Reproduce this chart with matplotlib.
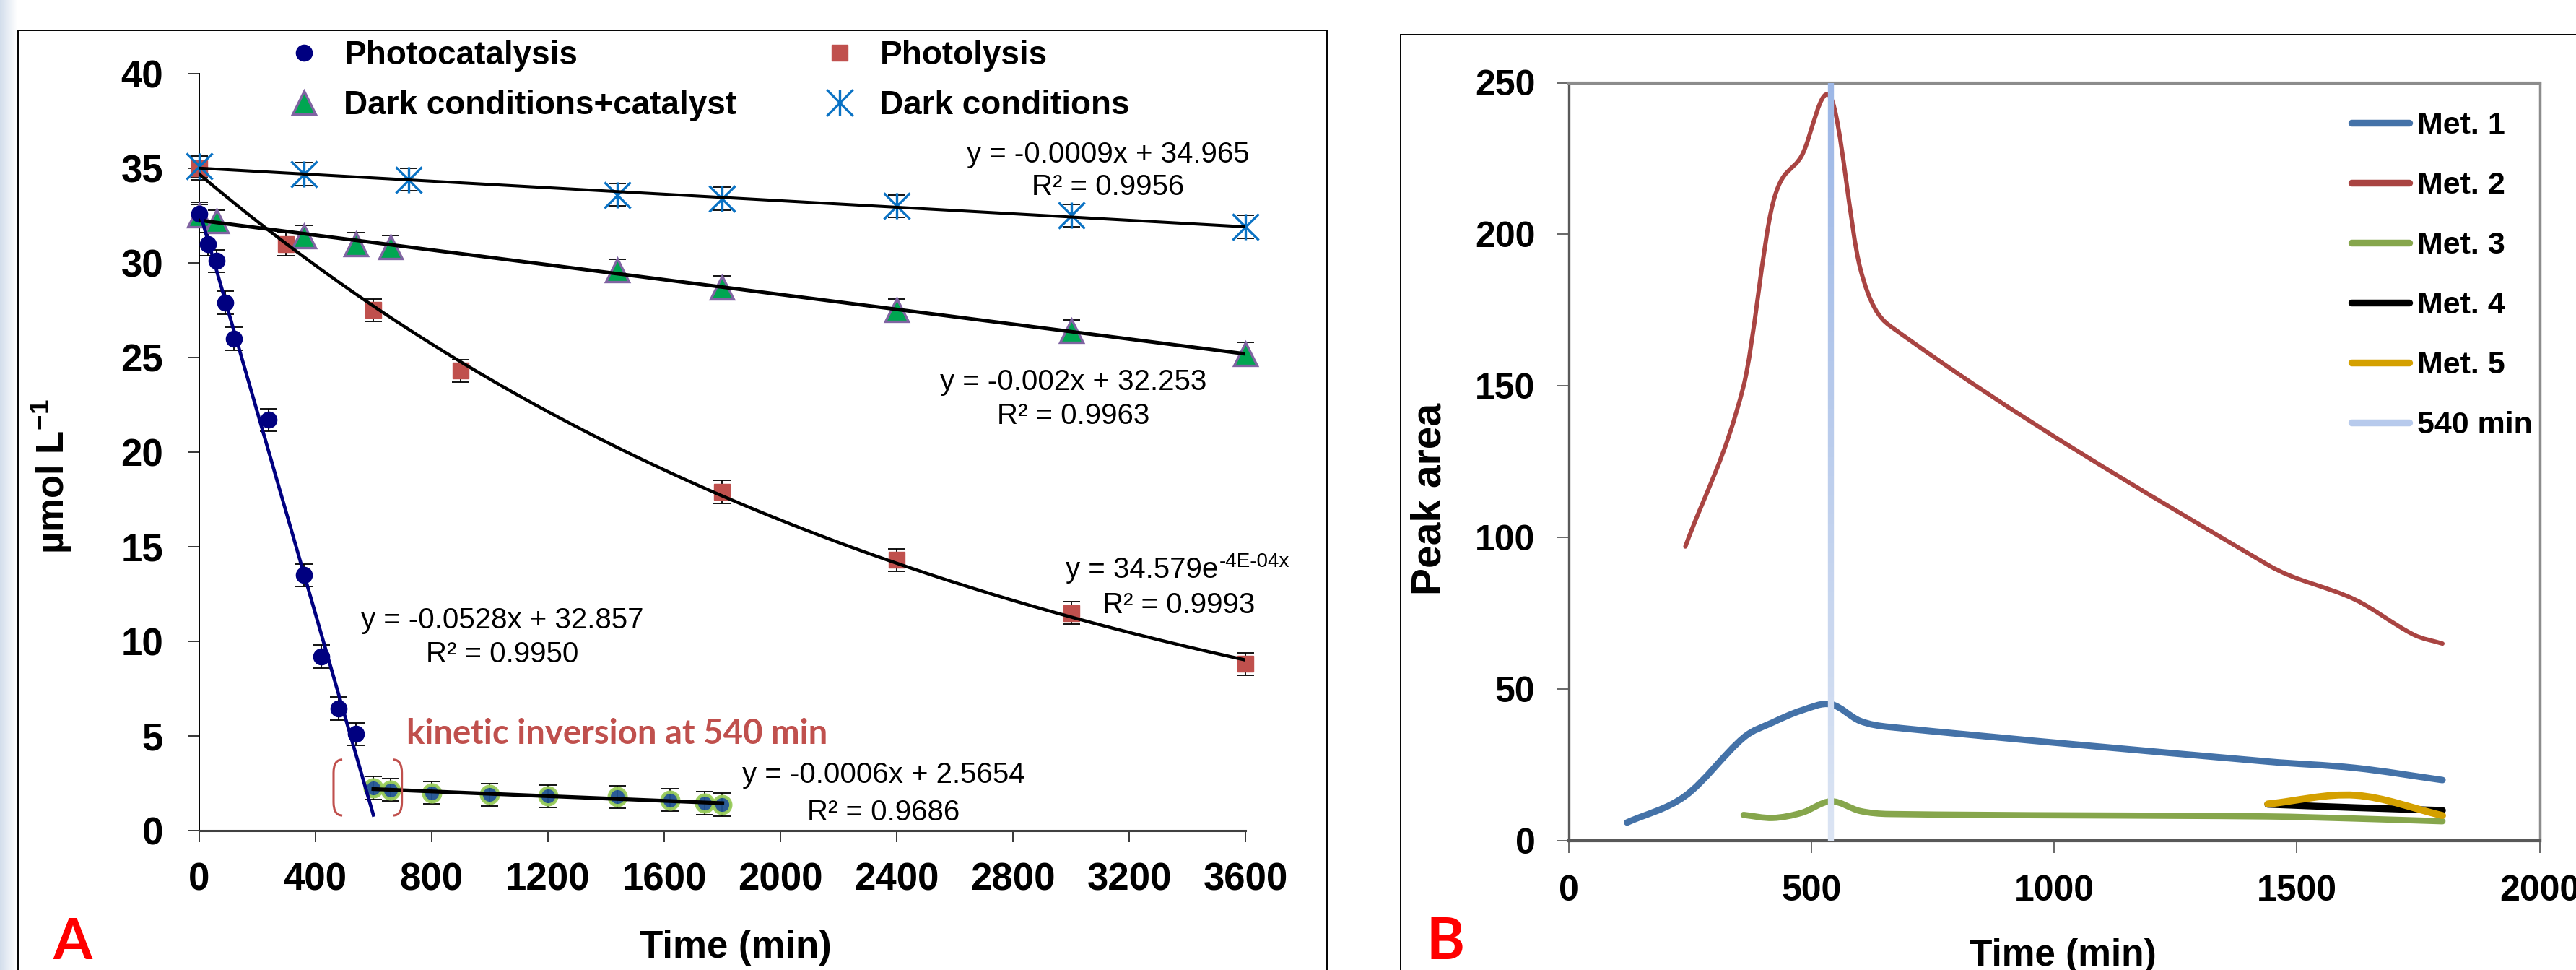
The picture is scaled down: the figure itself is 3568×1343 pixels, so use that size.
import numpy as np
import matplotlib
matplotlib.use("Agg")
import matplotlib.pyplot as plt
from matplotlib.path import Path
from matplotlib.patches import PathPatch, Rectangle
from matplotlib.lines import Line2D
from matplotlib.collections import LineCollection
from matplotlib.colors import LinearSegmentedColormap, to_rgb

plt.rcParams['font.family'] = ['Liberation Sans', 'DejaVu Sans']
plt.rcParams['mathtext.fontset'] = 'custom'
plt.rcParams['mathtext.rm'] = 'Liberation Sans'
plt.rcParams['mathtext.bf'] = 'Liberation Sans:bold'
plt.rcParams['mathtext.it'] = 'Liberation Sans:italic'

# ---------------- Panel A data ----------------
t_pc = [0, 30, 60, 90, 120, 240, 360, 420, 480, 540]
y_pc = [32.6, 31.0, 30.1, 27.9, 26.0, 21.7, 13.5, 9.2, 6.45, 5.1]
e_pc = [0.6, 0.6, 0.6, 0.6, 0.6, 0.6, 0.6, 0.6, 0.6, 0.6]

t_pc2 = [600, 660, 800, 1000, 1200, 1440, 1620, 1740, 1800]
y_pc2 = [2.25, 2.15, 2.0, 1.9, 1.82, 1.78, 1.62, 1.45, 1.38]
e_pc2 = [0.6, 0.6, 0.6, 0.6, 0.6, 0.6, 0.6, 0.6, 0.6]

t_pl = [0, 300, 600, 900, 1800, 2400, 3000, 3600]
y_pl = [35.0, 31.0, 27.5, 24.3, 17.9, 14.3, 11.5, 8.8]
e_pl = [0.6, 0.6, 0.6, 0.6, 0.6, 0.6, 0.6, 0.6]

t_dc = [0, 60, 360, 540, 660, 1440, 1800, 2400, 3000, 3600]
y_dc = [32.5, 32.2, 31.4, 31.0, 30.85, 29.6, 28.7, 27.5, 26.4, 25.2]
e_dc = [0.6, 0.6, 0.6, 0.6, 0.6, 0.6, 0.6, 0.6, 0.6, 0.6]

t_d = [0, 360, 720, 1440, 1800, 2400, 3000, 3600]
y_d = [35.1, 34.7, 34.4, 33.6, 33.4, 33.0, 32.5, 31.9]
e_d = [0.6, 0.6, 0.6, 0.6, 0.6, 0.6, 0.6, 0.6]

labels_A = ['Photocatalysis', 'Dark conditions+catalyst', 'Photolysis', 'Dark conditions']
xticks_A = [0, 400, 800, 1200, 1600, 2000, 2400, 2800, 3200, 3600]
yticks_A = [0, 5, 10, 15, 20, 25, 30, 35, 40]

eq_texts = [
    ('y = -0.0009x + 34.965', 'R² = 0.9956'),
    ('y = -0.002x + 32.253', 'R² = 0.9963'),
    ('y = 34.579e', 'R² = 0.9993'),
    ('y = -0.0528x + 32.857', 'R² = 0.9950'),
    ('y = -0.0006x + 2.5654', 'R² = 0.9686'),
]
eq3_exponent = '-4E-04x'

# ---------------- Panel B data ----------------
t_m1 = [120, 240, 360, 420, 480, 540, 600, 660, 1440, 1620, 1800]
y_m1 = [6.0, 14.8, 34.0, 39.0, 43.0, 45.0, 39.5, 37.5, 26.1, 24.0, 20.0]
t_m2 = [240, 360, 420, 480, 540, 600, 660, 1440, 1620, 1740, 1800]
y_m2 = [97, 150, 210, 226, 245, 189, 170, 91, 79.5, 68, 65]
t_m3 = [360, 420, 480, 540, 600, 660, 1440, 1620, 1800]
y_m3 = [8.5, 7.5, 9.2, 13.0, 9.8, 8.8, 8.0, 7.3, 6.4]
t_m4 = [1440, 1620, 1800]
y_m4 = [12.0, 10.9, 10.0]
t_m5 = [1440, 1620, 1800]
y_m5 = [12.1, 15.0, 8.3]
t_marker = 540
labels_B = ['Met. 1', 'Met. 2', 'Met. 3', 'Met. 4', 'Met. 5', '540 min']
xticks_B = [0, 500, 1000, 1500, 2000]
yticks_B = [0, 50, 100, 150, 200, 250]

# ---------------- figure ----------------
W, H, DPI = 3568, 1343, 100
fig = plt.figure(figsize=(W / DPI, H / DPI), dpi=DPI)
fig.patch.set_facecolor('white')

def fx(p):
    return p / W

def fy(p):
    return 1 - p / H

# faint left strip
axg = fig.add_axes([0, 0, fx(24), 1], zorder=-5)
axg.imshow(np.linspace(0, 1, 64)[None, :], aspect='auto', extent=(0, 1, 0, 1),
           cmap=LinearSegmentedColormap.from_list('g', ['#d3deec', '#ffffff']))
axg.axis('off')

# panel frames
fig.add_artist(Rectangle((fx(25), -0.1), fx(1838) - fx(25), fy(42) + 0.1,
                         transform=fig.transFigure, fill=False, ec='black', lw=1.4, zorder=0))
fig.add_artist(Rectangle((fx(1940), -0.1), 0.6, fy(48) + 0.1,
                         transform=fig.transFigure, fill=False, ec='black', lw=1.4, zorder=0))

axA = fig.add_axes([fx(275.5), fy(1150), fx(1725.5) - fx(275.5), fy(102) - fy(1150)])
axB = fig.add_axes([fx(2173), fy(1164), fx(3517.5) - fx(2173), fy(114.5) - fy(1164)])

# ---------------- Panel A ----------------
star = Path([(-1, -1), (1, 1), (-1, 1), (1, -1), (0, -1), (0, 1)],
            [Path.MOVETO, Path.LINETO, Path.MOVETO, Path.LINETO, Path.MOVETO, Path.LINETO])

eb = dict(fmt='none', ecolor='black', elinewidth=1.3, capsize=8.3, capthick=1.3, zorder=2)
for t, y, e in [(t_pc, y_pc, e_pc), (t_pc2, y_pc2, e_pc2), (t_pl, y_pl, e_pl),
                (t_dc, y_dc, e_dc), (t_d, y_d, e_d)]:
    c = axA.errorbar(t, y, yerr=e, **eb)
    for art in list(c.lines[1]) + list(c.lines[2]):
        art.set_clip_on(False)

st_pc = dict(ls='none', marker='o', ms=16, mfc='#000080', mec='#000080')
st_pc2 = dict(ls='none', marker='o', ms=17, mfc='#1f5290', mec='#9acd5a', mew=3.2, alpha=0.95)
st_pl = dict(ls='none', marker='s', ms=16, mfc='#c0504d', mec='#c0504d')
st_dc = dict(ls='none', marker='^', ms=23, mfc='#00a651', mec='#8064a2', mew=2.4)
st_d = dict(ls='none', marker=star, ms=26, mfc='none', mec='#0a72c4', mew=2.4)

axA.plot(t_pl, y_pl, zorder=3, clip_on=False, **st_pl)
axA.plot(t_dc, y_dc, zorder=3, clip_on=False, **st_dc)
axA.plot(t_pc, y_pc, zorder=3.2, clip_on=False, **st_pc)
axA.plot(t_pc2, y_pc2, zorder=3, clip_on=False, **st_pc2)
axA.plot(t_d, y_d, zorder=3.3, clip_on=False, **st_d)

# trendlines fitted from the data
k_d = np.polyfit(t_d, y_d, 1)
k_dc = np.polyfit(t_dc, y_dc, 1)
k_pl = np.polyfit(t_pl, np.log(y_pl), 1)
k_pc = np.polyfit(t_pc, y_pc, 1)
k_pc2 = np.polyfit(t_pc2, y_pc2, 1)
xx = np.array([0, 3600])
axA.plot(xx, np.polyval(k_d, xx), color='black', lw=2.9, zorder=4)
axA.plot(xx, np.polyval(k_dc, xx), color='black', lw=3.6, zorder=4)
xe = np.linspace(0, 3600, 300)
axA.plot(xe, np.exp(np.polyval(k_pl, xe)), color='black', lw=3.2, zorder=4)
xp = np.array([0, 600])
axA.plot(xp, np.polyval(k_pc, xp), color='#000080', lw=3.4, zorder=4, clip_on=False)
xp2 = np.array([600, 1800])
axA.plot(xp2, np.polyval(k_pc2, xp2), color='black', lw=3.8, zorder=4)

axA.set_xlim(0, 3600)
axA.set_ylim(0, 40)
axA.set_xticks(xticks_A)
axA.set_yticks(yticks_A)
axA.spines['top'].set_visible(False)
axA.spines['right'].set_visible(False)
axA.spines['left'].set_linewidth(1.4)
axA.spines['left'].set_color('black')
axA.spines['bottom'].set_linewidth(2.2)
axA.spines['bottom'].set_color('#404040')
axA.tick_params(axis='both', direction='out', length=11.5, width=1.1, labelsize=38, colors='black')
axA.tick_params(axis='y', pad=24)
axA.tick_params(axis='x', pad=20)
for lab in axA.get_xticklabels() + axA.get_yticklabels():
    lab.set_fontweight('bold')

# bracket around kinetic inversion
def bracket(x0, hook, top, bot, r):
    return Path([(x0 + hook, top), (x0, top), (x0, top - r), (x0, bot + r), (x0, bot), (x0 + hook, bot)],
                [Path.MOVETO, Path.CURVE3, Path.CURVE3, Path.LINETO, Path.CURVE3, Path.CURVE3])

axA.add_patch(PathPatch(bracket(463, 30, 3.75, 0.8, 0.7), fill=False, ec='#c0504d', lw=2.2, zorder=5))
axA.add_patch(PathPatch(bracket(698, -30, 3.75, 0.8, 0.7), fill=False, ec='#c0504d', lw=2.2, zorder=5))

# legend A
hA = [Line2D([], [], **st_pc), Line2D([], [], **st_dc), Line2D([], [], **st_pl), Line2D([], [], **st_d)]
legA = fig.legend(hA, labels_A, ncol=2, loc='upper left', bbox_to_anchor=(fx(393), fy(55)),
                  frameon=False, prop={'family': 'Liberation Sans', 'weight': 'bold', 'size': 33},
                  handlelength=1.2, handletextpad=0.62, columnspacing=2.5, labelspacing=0.55,
                  borderpad=0, borderaxespad=0, numpoints=1)

# equations
eq_pos = [(1535, 225, 270), (1487, 540, 587), (None, 800, 849), (696, 870, 917), (1224, 1084, 1136)]
eq3_main = None
for i, ((l1, l2), (cx, b1, b2)) in enumerate(zip(eq_texts, eq_pos)):
    if i == 2:
        eq3_main = fig.text(fx(1476), fy(b1), l1, ha='left', va='baseline', fontsize=29)
        fig.text(fx(1633), fy(b2), l2, ha='center', va='baseline', fontsize=29)
    else:
        fig.text(fx(cx), fy(b1), l1, ha='center', va='baseline', fontsize=29)
        fig.text(fx(cx), fy(b2), l2, ha='center', va='baseline', fontsize=29)

kin = fig.text(fx(563), fy(1030), 'kinetic inversion at 540 min', ha='left', va='baseline',
               family=['Lato', 'DejaVu Sans'], weight='bold', color='#c0504d', fontsize=30)

fig.text(fx(1019), fy(1326), 'Time (min)', ha='center', va='baseline', fontsize=38, weight='bold')
fig.text(fx(72), fy(660), 'µmol L$^{\\mathbf{-1}}$', ha='center', va='center', rotation=90,
         fontsize=38, weight='bold')
fig.text(fx(100), fy(1342), 'A', ha='center', va='bottom', family=['Lato', 'DejaVu Sans'],
         weight='bold', color='#ff0000', fontsize=56)

# ---------------- Panel B ----------------
def smooth_path(xs, ys):
    # cubic Hermite curve through the points (Excel-like smoothed line)
    x = np.asarray(xs, float)
    y = np.asarray(ys, float)
    n = len(x)
    m = np.zeros(n)
    for i in range(n):
        a = max(i - 1, 0)
        b = min(i + 1, n - 1)
        m[i] = (y[b] - y[a]) / (x[b] - x[a])
    verts = [(x[0], y[0])]
    codes = [Path.MOVETO]
    for i in range(n - 1):
        dx = x[i + 1] - x[i]
        verts += [(x[i] + dx / 3, y[i] + m[i] * dx / 3),
                  (x[i + 1] - dx / 3, y[i + 1] - m[i + 1] * dx / 3),
                  (x[i + 1], y[i + 1])]
        codes += [Path.CURVE4] * 3
    return Path(verts, codes)

colsB = ['#4472a8', '#a94442', '#86a64c', '#000000', '#d4a000']
lwB = [6.5, 4.3, 6.2, 6.8, 7.0]
for (t, y), c, lw in zip([(t_m1, y_m1), (t_m2, y_m2), (t_m3, y_m3), (t_m4, y_m4), (t_m5, y_m5)],
                         colsB, lwB):
    axB.add_patch(PathPatch(smooth_path(t, y), fill=False, ec=c, lw=lw,
                            capstyle='round', joinstyle='round', zorder=3))

# 540 min line with vertical gradient
yy = np.linspace(0, 250, 80)
segs = [[(t_marker, yy[i]), (t_marker, yy[i + 1])] for i in range(len(yy) - 1)]
ctop, cbot = np.array(to_rgb('#9db7e6')), np.array(to_rgb('#dbe4f3'))
fr = np.linspace(0, 1, len(segs))[:, None]
colsg = cbot * (1 - fr) + ctop * fr
axB.add_collection(LineCollection(segs, colors=colsg, linewidths=6.0, zorder=4, capstyle='butt'))

axB.set_xlim(0, 2000)
axB.set_ylim(0, 250)
axB.set_xticks(xticks_B)
axB.set_yticks(yticks_B)
axB.spines['top'].set_color('#8c8c8c')
axB.spines['top'].set_linewidth(3.0)
axB.spines['right'].set_color('#8c8c8c')
axB.spines['right'].set_linewidth(2.5)
axB.spines['left'].set_color('#5a5a5a')
axB.spines['left'].set_linewidth(2.4)
axB.spines['bottom'].set_color('#595959')
axB.spines['bottom'].set_linewidth(3.0)
axB.tick_params(axis='both', direction='out', length=12, width=1.1, labelsize=36,
                color='#404040', labelcolor='black')
axB.tick_params(axis='y', pad=21.6)
axB.tick_params(axis='x', pad=21.6)
for lab in axB.get_xticklabels() + axB.get_yticklabels():
    lab.set_fontweight('bold')

hB = [Line2D([], [], color=c, lw=6.8, solid_capstyle='round') for c in colsB]
hB.append(Line2D([], [], color='#b7caec', lw=6.8, solid_capstyle='round'))
legB = fig.legend(hB, labels_B, loc='upper left', bbox_to_anchor=(fx(3256.7), fy(154)),
                  frameon=False, prop={'family': 'Liberation Sans', 'weight': 'bold', 'size': 31},
                  handlelength=1.86, handletextpad=0.26, labelspacing=1.0,
                  borderpad=0, borderaxespad=0)

fig.text(fx(2857), fy(1337), 'Time (min)', ha='center', va='baseline', fontsize=37, weight='bold')
fig.text(fx(1980), fy(691), 'Peak area', ha='center', va='center', rotation=90,
         fontsize=41, weight='bold')
fig.text(fx(2002), fy(1342), 'B', ha='center', va='bottom', family=['Lato', 'DejaVu Sans'],
         weight='bold', color='#ff0000', fontsize=58)

# fit the red annotation to its measured width; place the exponent of eq. 3
fig.canvas.draw()
r = fig.canvas.get_renderer()
w = kin.get_window_extent(r).width
kin.set_fontsize(30 * 584.0 / w)
bb = eq3_main.get_window_extent(r)
fig.text(bb.x1 / W + 1.0 / W, fy(800) + 15.0 / H, eq3_exponent, ha='left', va='baseline', fontsize=20)

fig.savefig('out.png', dpi=DPI, facecolor='white')
